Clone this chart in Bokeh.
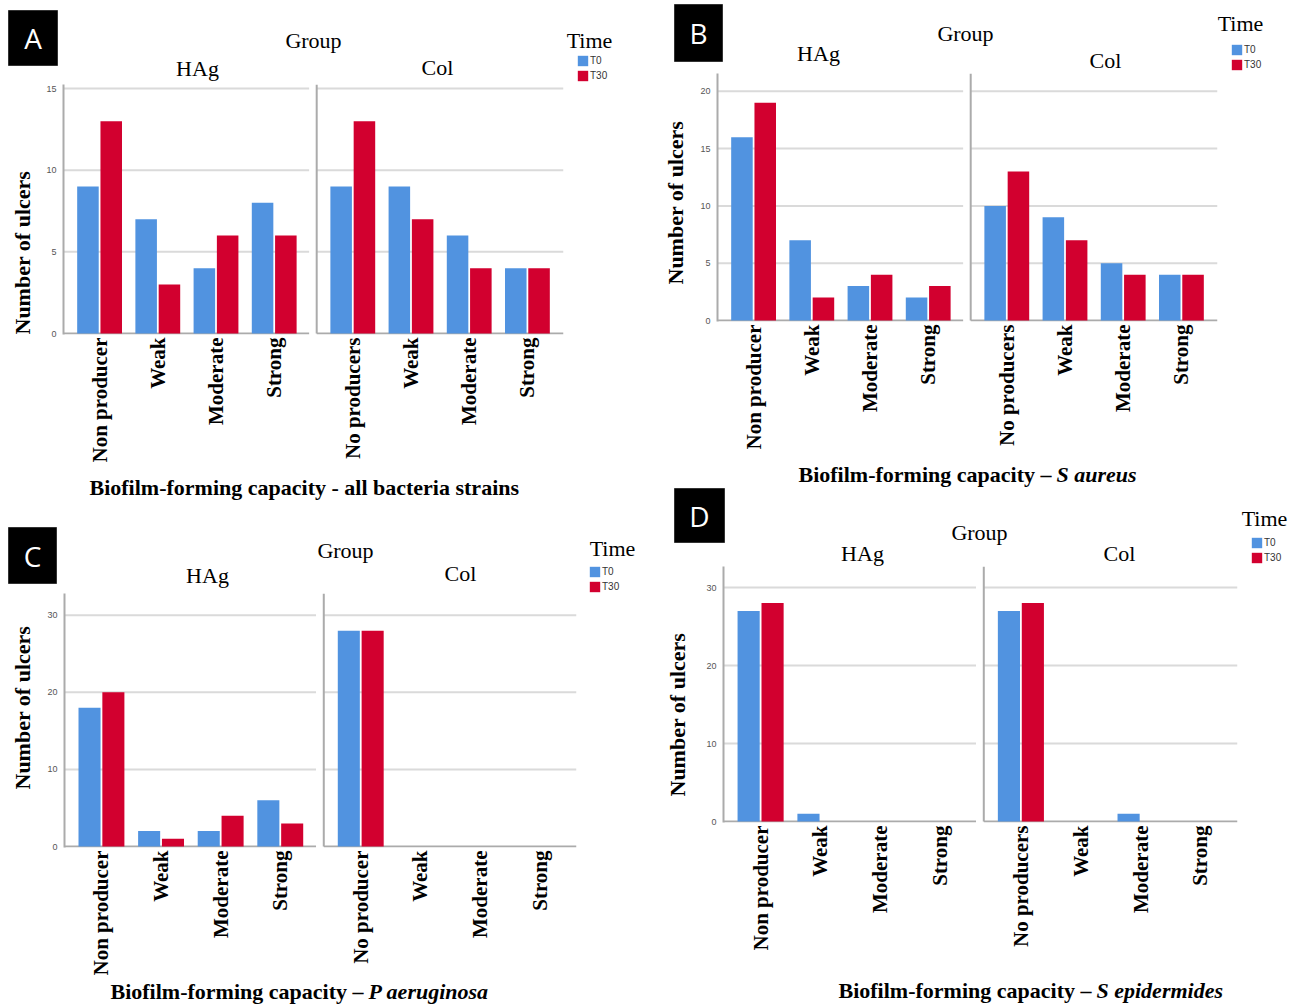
from math import pi

from bokeh.embed import file_html
from bokeh.layouts import column, row
from bokeh.models import (FixedTicker, Label, Legend, LegendItem, Range1d,
                          Title)
from bokeh.plotting import figure
from bokeh.resources import INLINE

# ---- data ---------------------------------------------------------------
time_levels = ["T0", "T30"]
hag_levels = ["Non producer", "Weak", "Moderate", "Strong"]
col_levels_plural = ["No producers", "Weak", "Moderate", "Strong"]
col_levels_single = ["No producer", "Weak", "Moderate", "Strong"]

# A: all bacteria strains
a_hag_t0 = [9, 7, 4, 8]
a_hag_t30 = [13, 3, 6, 6]
a_col_t0 = [9, 9, 6, 4]
a_col_t30 = [13, 7, 4, 4]

# B: S aureus
b_hag_t0 = [16, 7, 3, 2]
b_hag_t30 = [19, 2, 4, 3]
b_col_t0 = [10, 9, 5, 4]
b_col_t30 = [13, 7, 4, 4]

# C: P aeruginosa
c_hag_t0 = [18, 2, 2, 6]
c_hag_t30 = [20, 1, 4, 3]
c_col_t0 = [28, 0, 0, 0]
c_col_t30 = [28, 0, 0, 0]

# D: S epidermides
d_hag_t0 = [27, 1, 0, 0]
d_hag_t30 = [28, 0, 0, 0]
d_col_t0 = [27, 0, 1, 0]
d_col_t30 = [28, 0, 0, 0]

a_yticks = [0, 5, 10, 15]
b_yticks = [0, 5, 10, 15, 20]
c_yticks = [0, 10, 20, 30]
d_yticks = [0, 10, 20, 30]

# ---- styling ------------------------------------------------------------
BLUE = "#5193E0"
RED = "#D2002F"
GRID = "#DADADA"
AXIS = "#ABABAB"
SERIF = "Liberation Serif"
SANS = "Liberation Sans"
NARROW = "Liberation Sans Narrow, Liberation Sans"

# category slots on a numeric x scale: HAg facet then Col facet
HAG_X = [0, 1, 2, 3]
COL_X = [round(4.35 + i, 2) for i in range(4)]
X_LO, X_HI = -0.62, 7.97
HAG_END, COL_START = 3.60, 3.73
OFFSET = 0.2
BAR_W = 0.37


def blank(x0, y0, w, h):
    """A frame-only canvas whose coordinates are page pixels (y downwards)."""
    p = figure(width=w, height=h, title=None, output_backend="svg",
               toolbar_location=None, x_axis_location=None,
               y_axis_location=None, min_border=0, frame_align=False,
               x_range=Range1d(x0, x0 + w), y_range=Range1d(y0 + h, y0))
    p.outline_line_color = None
    p.grid.visible = False
    p.background_fill_color = "white"
    p.border_fill_color = "white"
    return p


def header(spec):
    ox, oy = spec["origin"]
    W = spec["width"]
    h = spec["head_h"]
    p = blank(ox, oy, W, h)

    # panel letter tile
    bx0, by0, bx1, by1 = spec["letter_box"]
    p.quad(left=[bx0], right=[bx1], top=[by0], bottom=[by1],
           fill_color="black", line_color="#333333")
    p.add_layout(Label(x=(bx0 + bx1) / 2, y=(by0 + by1) / 2,
                       text=spec["letter"], text_font="Open Sans",
                       text_font_size="28px", text_color="white",
                       text_align="center", text_baseline="middle"))

    head = dict(text_font=SERIF, text_font_size="22px", text_color="black",
                text_align="center", text_baseline="middle")
    for key, txt in (("group_pos", "Group"), ("hag_pos", "HAg"),
                     ("col_pos", "Col"), ("time_pos", "Time")):
        x, y = spec[key]
        p.add_layout(Label(x=x, y=y, text=txt, **head))

    # Time legend: zero-height swatch renderers only lend their colours
    mid = ox + W / 2
    r0 = p.vbar(x=[mid], top=[oy], bottom=[oy], width=0,
                fill_color=BLUE, line_color=None)
    r1 = p.vbar(x=[mid], top=[oy], bottom=[oy], width=0,
                fill_color=RED, line_color=None)
    lx, ly = spec["legend_pos"]
    legend_h = 28
    legend = Legend(items=[LegendItem(label=time_levels[0], renderers=[r0]),
                           LegendItem(label=time_levels[1], renderers=[r1])],
                    location=(lx - ox - 1, (oy + h) - (ly - 1 + legend_h)),
                    orientation="vertical", border_line_color=None,
                    background_fill_alpha=0, padding=0, margin=0, spacing=2,
                    glyph_width=13, glyph_height=13, label_height=13,
                    label_standoff=1, label_text_font=NARROW,
                    label_text_font_size="10px", label_text_color="#333333")
    p.add_layout(legend)
    return p


def body(spec):
    ox, oy = spec["origin"]
    W = spec["width"]
    top = oy + spec["head_h"]
    L, R = spec["lr"]
    base = spec["baseline"]
    bottom = spec["body_bottom"]
    ppu = spec["ppu"]
    H = bottom - top
    fh = base + 1 - top
    y_end = (base - top) / ppu
    y_start = -1.0 / ppu
    yticks = spec["yticks"]

    p = figure(width=W, height=H, title=None, output_backend="svg",
               toolbar_location=None, frame_align=False,
               x_range=Range1d(X_LO, X_HI), y_range=Range1d(y_start, y_end),
               min_border_left=L, min_border_right=R,
               min_border_top=0, min_border_bottom=H - fh)
    p.outline_line_color = None
    p.grid.visible = False
    p.background_fill_color = "white"
    p.border_fill_color = "white"

    # facet gridlines, baselines and the Col facet divider
    facets = [(X_LO, HAG_END), (COL_START, X_HI)]
    gx0, gx1, gy = [], [], []
    for f0, f1 in facets:
        for t in yticks:
            if t > 0:
                gx0.append(f0)
                gx1.append(f1)
                gy.append(t)
    p.segment(x0=gx0, y0=gy, x1=gx1, y1=gy, line_color=GRID, line_width=2)
    p.segment(x0=[f[0] for f in facets], y0=[0, 0],
              x1=[f[1] for f in facets], y1=[0, 0],
              line_color=AXIS, line_width=2)
    p.segment(x0=[COL_START], y0=[0], x1=[COL_START], y1=[y_end],
              line_color=AXIS, line_width=2)

    # grouped bars
    t0 = spec["hag_t0"] + spec["col_t0"]
    t30 = spec["hag_t30"] + spec["col_t30"]
    slots = HAG_X + COL_X
    p.vbar(x=[s - OFFSET for s in slots], top=t0, width=BAR_W,
           fill_color=BLUE, line_color=None)
    p.vbar(x=[s + OFFSET for s in slots], top=t30, width=BAR_W,
           fill_color=RED, line_color=None)

    # x axis: rotated category names
    xa = p.xaxis[0]
    xa.ticker = FixedTicker(ticks=slots)
    labels = spec["hag_levels"] + spec["col_levels"]
    xa.major_label_overrides = {s: lab for s, lab in zip(slots, labels)}
    xa.major_label_orientation = pi / 2
    xa.major_label_text_font = SERIF
    xa.major_label_text_font_style = "bold"
    xa.major_label_text_font_size = "21px"
    xa.major_label_text_color = "black"
    xa.axis_line_color = None
    xa.major_tick_line_color = None
    xa.minor_tick_line_color = None
    xa.major_tick_out = 0
    xa.major_tick_in = 0
    xa.major_label_standoff = 3

    # y axis
    ya = p.yaxis[0]
    ya.ticker = FixedTicker(ticks=yticks)
    ya.major_label_text_font = SANS
    ya.major_label_text_font_size = "9px"
    ya.major_label_text_color = "#555555"
    ya.axis_line_color = AXIS
    ya.axis_line_width = 2
    ya.major_tick_line_color = None
    ya.minor_tick_line_color = None
    ya.major_tick_out = 0
    ya.major_tick_in = 0
    ya.major_label_standoff = 7

    # y axis title
    p.add_layout(Title(text="Number of ulcers", align="left",
                       offset=spec["ylab_offset"], standoff=spec["ylab_standoff"],
                       vertical_align="middle", text_font=SERIF,
                       text_font_size="22px", text_font_style="bold",
                       text_color="black"), "left")
    return p


def footer(spec):
    ox, oy = spec["origin"]
    W = spec["width"]
    top = spec["body_bottom"]
    h = spec["foot_bottom"] - top
    p = blank(ox, top, W, h)
    tx, ty = spec["title_pos"]
    bold = dict(text_font=SERIF, text_font_size="22px", text_font_style="bold",
                text_color="black", text_baseline="middle", text_align="left")
    p.add_layout(Label(x=tx, y=ty, text=spec["title"], **bold))
    if spec["species"] is not None:
        p.add_layout(Label(x=tx + 258, y=ty, text=spec["species"],
                           **dict(bold, text_font_style="bold italic")))
    return p


def panel(spec):
    return [header(spec), body(spec), footer(spec)]


spec_a = dict(
    origin=(0, 0), width=650, head_h=84, lr=(63, 87), baseline=333,
    body_bottom=470, foot_bottom=500, ppu=16.33, yticks=a_yticks,
    hag_t0=a_hag_t0, hag_t30=a_hag_t30, col_t0=a_col_t0, col_t30=a_col_t30,
    hag_levels=hag_levels, col_levels=col_levels_plural,
    letter="A", letter_box=(8, 10, 57, 65),
    group_pos=(313, 40), hag_pos=(197, 68), col_pos=(437, 67),
    time_pos=(589, 40), legend_pos=(577, 55),
    ylab_offset=0, ylab_standoff=15,
    title="Biofilm-forming capacity - all bacteria strains", species=None,
    title_pos=(89, 487))

spec_b = dict(
    origin=(650, 0), width=648, head_h=73, lr=(67, 81), baseline=320,
    body_bottom=460, foot_bottom=487, ppu=11.46, yticks=b_yticks,
    hag_t0=b_hag_t0, hag_t30=b_hag_t30, col_t0=b_col_t0, col_t30=b_col_t30,
    hag_levels=hag_levels, col_levels=col_levels_plural,
    letter="B", letter_box=(674, 4, 722, 61),
    group_pos=(965, 33), hag_pos=(818, 53), col_pos=(1105, 60),
    time_pos=(1240, 23), legend_pos=(1231, 44),
    ylab_offset=37, ylab_standoff=17,
    title="Biofilm-forming capacity \u2013", species="S aureus",
    title_pos=(798, 474))

spec_c = dict(
    origin=(0, 500), width=650, head_h=93, lr=(63, 74), baseline=848,
    body_bottom=978, foot_bottom=1004, ppu=7.77, yticks=c_yticks,
    hag_t0=c_hag_t0, hag_t30=c_hag_t30, col_t0=c_col_t0, col_t30=c_col_t30,
    hag_levels=hag_levels, col_levels=col_levels_single,
    letter="C", letter_box=(8, 527, 56, 583),
    group_pos=(345, 550), hag_pos=(207, 575), col_pos=(460, 573),
    time_pos=(612, 548), legend_pos=(589, 566),
    ylab_offset=58, ylab_standoff=17,
    title="Biofilm-forming capacity \u2013", species="P aeruginosa",
    title_pos=(110, 991))

spec_d = dict(
    origin=(650, 487), width=648, head_h=79, lr=(72, 61), baseline=821,
    body_bottom=970, foot_bottom=1004, ppu=7.8, yticks=d_yticks,
    hag_t0=d_hag_t0, hag_t30=d_hag_t30, col_t0=d_col_t0, col_t30=d_col_t30,
    hag_levels=hag_levels, col_levels=col_levels_plural,
    letter="D", letter_box=(674, 488, 724, 542),
    group_pos=(979, 532), hag_pos=(862, 553), col_pos=(1119, 553),
    time_pos=(1264, 518), legend_pos=(1251, 537),
    ylab_offset=26, ylab_standoff=26,
    title="Biofilm-forming capacity \u2013", species="S epidermides",
    title_pos=(838, 990))

left = column(*panel(spec_a), *panel(spec_c), spacing=0)
right = column(*panel(spec_b), *panel(spec_d), spacing=0)
layout = row(left, right, spacing=0)

open("out.html", "w").write(file_html(layout, INLINE))
